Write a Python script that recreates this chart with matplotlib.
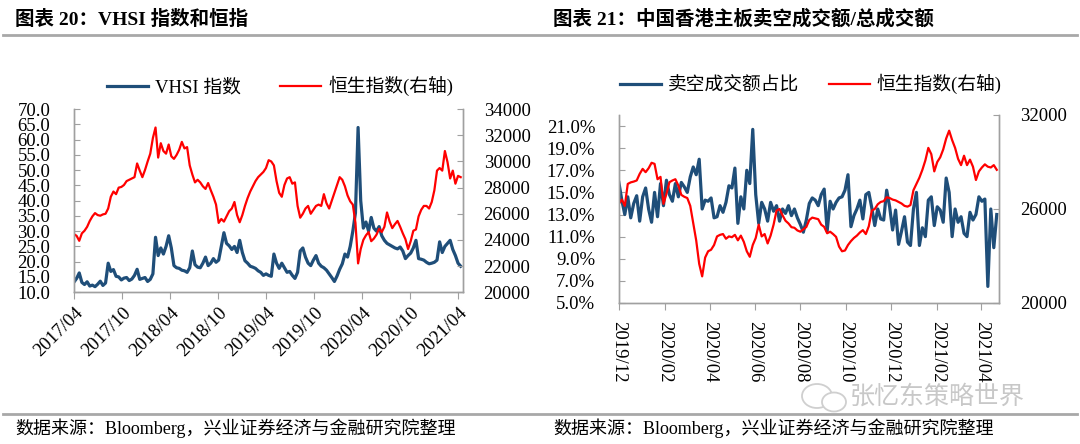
import numpy as np
import pandas as pd
import matplotlib
matplotlib.use("Agg")
import matplotlib.pyplot as plt
from matplotlib.lines import Line2D
from matplotlib.patches import Ellipse

plt.rcParams['font.family'] = ['Liberation Serif', 'Noto Sans CJK SC']
plt.rcParams['axes.unicode_minus'] = False

# ---- chart 20 : VHSI vs Hang Seng (sampled every 10 days from 2017/04/01)
vhsi = [13.3, 14.5, 16.3, 13.2, 12.5, 13.4, 12.0, 12.3, 11.8, 12.6,
        13.6, 12.2, 13.0, 19.5, 16.8, 17.4, 15.2, 15.0, 14.0, 14.6,
        14.8, 13.8, 14.3, 15.5, 17.5, 14.2, 14.5, 14.8, 13.5, 14.2,
        16.0, 28.0, 22.0, 24.5, 22.5, 25.0, 28.5, 24.5, 18.7, 18.0,
        17.8, 17.2, 17.0, 16.5, 18.0, 23.5, 19.0, 18.2, 18.0, 19.5,
        21.5, 18.7, 19.5, 21.0, 19.8, 20.5, 25.0, 29.5, 26.0, 25.2,
        24.0, 25.0, 23.0, 27.0, 23.0, 20.3, 19.5, 18.5, 18.2, 17.8,
        17.0, 16.5, 15.5, 16.0, 15.5, 15.2, 22.5, 19.5, 17.8, 19.5,
        18.0, 16.5, 16.8, 15.5, 14.5, 16.5, 23.5, 24.5, 21.5, 19.5,
        18.7, 20.5, 22.0, 19.5, 18.5, 18.0, 17.2, 16.0, 14.8, 13.5,
        15.3, 17.5, 19.3, 22.5, 21.5, 25.0, 30.0, 36.0, 64.0, 40.0,
        31.0, 33.0, 30.0, 34.5, 31.0, 30.0, 31.5, 28.5, 27.0, 26.0,
        25.5, 25.0, 24.5, 24.2, 24.8, 23.5, 21.0, 22.0, 22.8, 24.5,
        27.0, 21.0, 20.8, 20.5, 19.8, 19.3, 19.5, 19.8, 20.5, 26.5,
        23.0, 25.0, 26.0, 27.0, 24.0, 22.0, 19.5, 18.5]

hsi_a = [24440, 24310, 23930, 24500, 24700, 25000, 25450, 25800, 26050, 25900,
         25850, 25950, 26000, 26400, 27300, 27700, 27500, 28000, 28050, 28200,
         28500, 28600, 28700, 28800, 29850, 29300, 28800, 29350, 30000, 30600,
         31800, 32600, 30300, 31400, 30800, 30600, 31300, 30400, 30200, 30500,
         30900, 31500, 31000, 31100, 29700, 29000, 28400, 28600, 28400, 28100,
         27900, 28350, 27800, 27300, 26700, 25300, 25600, 25400, 25800, 26200,
         26400, 26900, 25900, 25350, 25900, 26600, 27200, 27700, 28100, 28500,
         28800, 29000, 29200, 29500, 30100, 30000, 29700, 28500, 27600, 27300,
         28200, 28700, 28800, 28300, 28400, 26600, 25700, 26000, 26400, 26600,
         26000, 26300, 26600, 26700, 26600, 27500, 26800, 26400, 27000, 27600,
         28200, 28800, 28600, 28100, 27400, 26950, 26700, 25300, 22200, 23300,
         24000, 24350, 24600, 23900, 24100, 24400, 24850, 24600, 25000, 26100,
         25400, 24900, 25200, 25450, 25000, 24500, 24050, 23300, 23900, 24700,
         24800, 25800, 26300, 26600, 26600, 26400, 26900, 27800, 29300, 29500,
         29300, 30800, 29950, 28700, 29300, 28300, 28900, 28800]

xt_a = ['2017/04', '2017/10', '2018/04', '2018/10', '2019/04',
        '2019/10', '2020/04', '2020/10', '2021/04']

# ---- chart 21 : short selling share vs Hang Seng (every 4 days from 2019/12/01)
short_pct = [15.9, 14.3, 13.0, 14.6, 12.7, 14.0, 14.7, 12.4, 14.6, 15.4,
             13.5, 12.3, 15.0, 12.8, 15.8, 13.8, 16.1, 14.8, 14.2, 15.8,
             14.6, 15.9, 15.5, 15.0, 16.4, 17.3, 16.6, 18.0, 13.5, 14.3,
             14.2, 14.5, 12.7, 12.8, 13.8, 13.2, 14.1, 15.6, 15.4, 17.2,
             12.2, 14.6, 13.5, 17.0, 15.8, 20.7, 14.8, 12.2, 14.1, 13.5,
             12.4, 14.1, 13.3, 13.8, 12.4, 13.5, 13.1, 13.8, 12.9, 13.5,
             12.7, 12.1, 11.4, 12.5,
             14.0, 14.5, 14.3, 13.8, 14.8, 15.3, 11.5, 14.2, 13.5, 14.1,
             14.5, 14.6, 15.2, 16.6, 11.9, 12.9, 13.5, 14.3, 12.6, 14.8,
             15.0, 13.6, 12.0, 13.5, 12.6, 12.5, 15.2, 13.7, 11.6, 13.4,
             10.3, 11.5, 12.8, 10.5, 10.2, 13.5, 15.0, 10.2, 11.8, 11.0,
             14.3, 14.6, 12.0, 13.7, 13.4, 12.3, 16.3, 15.0, 11.0, 13.5,
             12.3, 12.8, 11.3, 11.0, 13.2, 12.5, 13.0, 14.6, 14.2, 14.4,
             6.5, 13.5, 10.0, 13.0]

hsi_b = [26330, 26600, 26200, 27600, 27700, 27750, 27820, 28240, 28560, 28350,
         28600, 28950, 28880, 27900, 28050, 26330, 26970, 27710, 27820, 27900,
         27500, 26900, 26780, 26700, 26200, 25100, 23990, 22500, 21700, 22900,
         23300, 23400, 23700, 24250, 24350, 24400, 24100, 24250, 24200, 24350,
         24000, 24300, 23900, 23300, 22950, 23700, 24150, 25000, 24250, 24400,
         23800, 24300, 25000, 25900, 26000, 25600, 25250, 25080, 24840, 24800,
         24630, 24550, 24700, 24850,
         25300, 25450, 25400, 25350, 25000, 24860, 24450, 24550, 24400, 24220,
         23600, 23300, 23350, 23700, 23950, 24150, 24300, 24500, 24650, 24400,
         24900, 25900, 26000, 26300, 26450, 26500, 26750, 26700, 26600, 26550,
         26450, 26350, 26200, 26150, 26250, 27200, 27600, 28000, 28500, 29100,
         29900, 29500, 28400, 29000, 29300, 29800, 30500, 31000, 30400, 29900,
         29200, 28800, 29400, 28800, 29150, 28700, 27850, 28400, 28650, 28850,
         28700, 28650, 28800, 28500]

xt_b = ['2019/12', '2020/02', '2020/04', '2020/06', '2020/08',
        '2020/10', '2020/12', '2021/02', '2021/04']

BLUE = '#1F4E79'
RED = '#FF0000'
GREY = '#A0A0A0'
FS = 13.5


def style_pair(ax, axr):
    """
    Common look of a chart with a secondary axis.
    ax  : the main (left) axis
    axr : the twin (right) axis
    """
    for a in (ax, axr):
        a.spines['top'].set_visible(False)
        for s in ('left', 'right', 'bottom'):
            a.spines[s].set_color(GREY)
            a.spines[s].set_linewidth(1.0)
        a.set_facecolor('none')
    ax.tick_params(axis='y', direction='in', length=4, color=GREY,
                   labelsize=FS, pad=17)
    axr.tick_params(axis='y', direction='in', length=4, color=GREY,
                    labelsize=FS, pad=15)
    ax.tick_params(axis='x', direction='out', length=5, color=GREY,
                   labelsize=FS, pad=4)


fig = plt.figure(figsize=(10.8, 4.44), dpi=100)

# ----- left chart
ax1 = fig.add_axes([0.0685, 0.342, 0.360, 0.412])
ax1r = ax1.twinx()
d_a = pd.date_range('2017-04-01', periods=len(vhsi), freq='10D')
l1, = ax1.plot(d_a, vhsi, color=BLUE, lw=2.3, label='VHSI 指数')
l2, = ax1r.plot(d_a, hsi_a, color=RED, lw=1.6, label='恒生指数(右轴)')
ax1.set_ylim(10, 70)
ax1.set_yticks(np.arange(10, 71, 5))
ax1.set_yticklabels(['%.1f' % v for v in np.arange(10, 71, 5)])
ax1r.set_ylim(20000, 34000)
ax1r.set_yticks(np.arange(20000, 34001, 2000))
ax1.set_xlim(pd.Timestamp('2017-04-01'), pd.Timestamp('2021-04-18'))
ax1.set_xticks(pd.to_datetime(xt_a, format='%Y/%m'))
ax1.set_xticklabels(xt_a, rotation=45, ha='right', rotation_mode='anchor')
style_pair(ax1, ax1r)
ax1.legend(handles=[l1, l2], loc='lower center', bbox_to_anchor=(0.53, 1.03),
           ncol=2, frameon=False, fontsize=FS, handlelength=2.2,
           handletextpad=0.35, columnspacing=2.1, borderaxespad=0)

# ----- right chart
ax2 = fig.add_axes([0.573, 0.3176, 0.352, 0.4234])
ax2r = ax2.twinx()
d_b = pd.date_range('2019-12-01', periods=len(short_pct), freq='4D')
l3, = ax2.plot(d_b, short_pct, color=BLUE, lw=2.3, label='卖空成交额占比')
l4, = ax2r.plot(d_b, hsi_b, color=RED, lw=1.6, label='恒生指数(右轴)')
ax2.set_ylim(5, 22)
ax2.set_yticks(np.arange(5, 22, 2))
ax2.set_yticklabels(['%.1f%%' % v for v in np.arange(5, 22, 2)])
ax2r.set_ylim(20000, 32000)
ax2r.set_yticks([20000, 26000, 32000])
ax2.set_xlim(pd.Timestamp('2019-12-01'), pd.Timestamp('2021-04-25'))
ax2.set_xticks(pd.to_datetime(xt_b, format='%Y/%m'))
ax2.set_xticklabels(xt_b, rotation=-90, ha='center', va='top')
style_pair(ax2, ax2r)
ax2.tick_params(axis='x', pad=8)
ax2.legend(handles=[l3, l4], loc='lower center', bbox_to_anchor=(0.505, 1.07),
           ncol=2, frameon=False, fontsize=FS, handlelength=2.2,
           handletextpad=0.35, columnspacing=1.6, borderaxespad=0)

# ----- titles, rules, sources
fig.text(15 / 1080, 1 - 19 / 444, '图表 20：VHSI 指数和恒指', fontsize=14,
         fontweight='bold', va='center')
fig.text(553 / 1080, 1 - 19 / 444, '图表 21：中国香港主板卖空成交额/总成交额',
         fontsize=14, fontweight='bold', va='center')
fig.add_artist(Line2D([0.003, 0.997], [1 - 35 / 444] * 2, transform=fig.transFigure,
                      color='#A8A8A8', lw=2.0))
fig.add_artist(Line2D([0.003, 0.997], [1 - 414 / 444] * 2, transform=fig.transFigure,
                      color='#A8A8A8', lw=2.0))
src = '数据来源：Bloomberg，兴业证券经济与金融研究院整理'
fig.text(15 / 1080, 1 - 428 / 444, src, fontsize=13, va='center')
fig.text(553 / 1080, 1 - 428 / 444, src, fontsize=13, va='center')

# watermark
fig.add_artist(Ellipse((817 / 1080, 1 - 396 / 444), 30 / 1080, 24 / 444,
                       transform=fig.transFigure, fill=False, ec='#CFCFCF', lw=1.3))
fig.add_artist(Ellipse((834 / 1080, 1 - 402 / 444), 24 / 1080, 19 / 444,
                       transform=fig.transFigure, fc='white', ec='#CFCFCF', lw=1.3))
fig.text(850 / 1080, 1 - 397 / 444, '张忆东策略世界', fontsize=18, color='#C8C8C8',
         family=['Noto Sans CJK SC'], va='center')

fig.savefig('out.png', dpi=100)
